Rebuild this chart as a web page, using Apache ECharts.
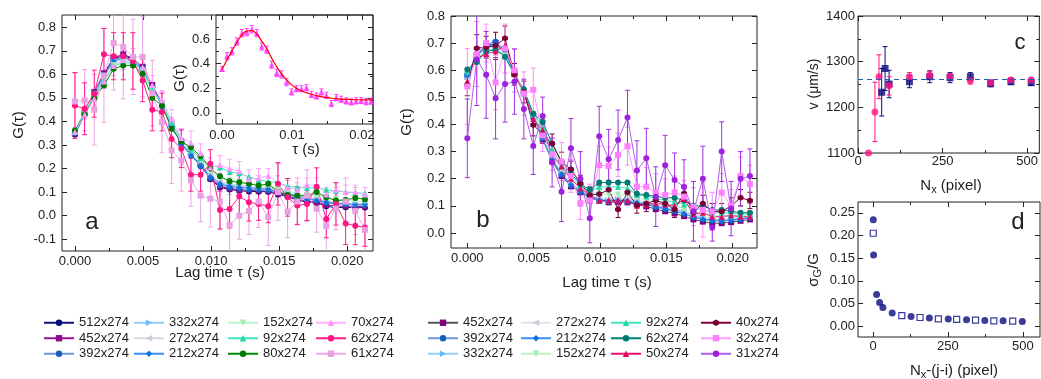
<!DOCTYPE html>
<html><head><meta charset="utf-8">
<script src="https://cdn.jsdelivr.net/npm/echarts@6/dist/echarts.min.js"></script>
<style>html,body{margin:0;padding:0;background:#fff}#c{width:1041px;height:379px}</style>
</head><body><div id="c"></div><script>
// ---------------- DATA ----------------
const lagTime = [0,0.00071,0.00142,0.00213,0.00284,0.00355,0.00426,0.00497,0.00568,0.00639,0.0071,0.00781,0.00852,0.00923,0.00994,0.01065,0.01136,0.01207,0.01278,0.01349,0.0142,0.01491,0.01562,0.01633,0.01704,0.01775,0.01846,0.01917,0.01988,0.02059,0.0213];

// panel a
const namesA = ['512x274','452x274','392x274','332x274','272x274','212x274','152x274','92x274','80x274','70x274','62x274','61x274'];
const a512 = [0.345,0.43,0.52,0.60,0.665,0.68,0.665,0.63,0.55,0.47,0.385,0.31,0.26,0.215,0.155,0.12,0.111,0.106,0.103,0.102,0.102,0.09,0.081,0.066,0.058,0.055,0.04,0.034,0.036,0.033,0.035];
const a452 = [0.35,0.435,0.525,0.605,0.67,0.685,0.668,0.632,0.555,0.475,0.39,0.315,0.262,0.218,0.158,0.125,0.115,0.11,0.108,0.106,0.104,0.094,0.085,0.07,0.062,0.058,0.046,0.04,0.04,0.038,0.04];
const a392 = [0.35,0.432,0.522,0.598,0.66,0.675,0.66,0.625,0.545,0.465,0.382,0.305,0.255,0.21,0.16,0.13,0.12,0.115,0.11,0.11,0.108,0.1,0.09,0.078,0.07,0.065,0.055,0.05,0.048,0.045,0.045];
const a332 = [0.352,0.435,0.515,0.59,0.652,0.668,0.655,0.62,0.54,0.47,0.385,0.31,0.26,0.222,0.17,0.14,0.13,0.125,0.12,0.118,0.115,0.105,0.095,0.085,0.075,0.07,0.062,0.056,0.054,0.05,0.05];
const a272 = [0.355,0.437,0.518,0.592,0.655,0.665,0.652,0.618,0.54,0.472,0.39,0.315,0.265,0.225,0.175,0.145,0.135,0.13,0.125,0.12,0.118,0.108,0.098,0.088,0.078,0.072,0.064,0.058,0.055,0.052,0.052];
const a212 = [0.348,0.43,0.515,0.595,0.655,0.67,0.655,0.622,0.542,0.466,0.38,0.305,0.258,0.215,0.165,0.135,0.125,0.12,0.118,0.115,0.112,0.1,0.092,0.08,0.07,0.066,0.058,0.052,0.05,0.047,0.048];
const a152 = [0.36,0.44,0.51,0.58,0.64,0.655,0.65,0.615,0.535,0.475,0.39,0.32,0.275,0.235,0.19,0.16,0.15,0.145,0.138,0.132,0.128,0.115,0.105,0.095,0.088,0.085,0.078,0.07,0.066,0.062,0.06];
const a92  = [0.36,0.44,0.505,0.575,0.635,0.65,0.648,0.612,0.535,0.478,0.395,0.325,0.28,0.245,0.213,0.205,0.185,0.18,0.165,0.152,0.145,0.14,0.125,0.12,0.118,0.118,0.11,0.105,0.1,0.097,0.095];
const a80  = [0.362,0.43,0.50,0.553,0.624,0.638,0.638,0.603,0.50,0.468,0.369,0.315,0.29,0.252,0.20,0.167,0.146,0.142,0.135,0.128,0.135,0.10,0.088,0.085,0.085,0.10,0.078,0.064,0.067,0.075,0.07];
const a70  = [0.355,0.43,0.495,0.57,0.635,0.66,0.67,0.63,0.555,0.49,0.41,0.33,0.31,0.265,0.205,0.215,0.2,0.19,0.155,0.16,0.17,0.14,0.12,0.11,0.13,0.13,0.09,0.11,0.1,0.1,0.09];
const a62  = [0.468,0.454,0.518,0.685,0.677,0.677,0.657,0.574,0.45,0.44,0.326,0.284,0.174,0.174,0.22,0.024,0.028,0.082,0.057,0.05,0.04,0.135,0.078,0.043,0.05,0.123,-0.014,0.05,-0.033,-0.043,-0.05];
const a61  = [0.485,0.49,0.45,0.595,0.733,0.716,0.674,0.674,0.52,0.397,0.277,0.234,0.15,0.085,0.072,0.06,-0.04,0.0,0.02,0.06,-0.007,0.1,0.017,0.06,0.085,0.03,-0.043,0.03,0.06,0.02,-0.06];
const a70err = [0.02,0.02,0.03,0.03,0.04,0.04,0.04,0.04,0.04,0.04,0.04,0.04,0.05,0.04,0.04,0.04,0.04,0.04,0.04,0.04,0.03,0.03,0.03,0.03,0.03,0.03,0.03,0.03,0.03,0.03,0.03];
const a62err = [0.14,0.11,0.1,0.11,0.1,0.1,0.12,0.09,0.09,0.08,0.08,0.08,0.07,0.07,0.06,0.08,0.08,0.09,0.08,0.07,0.07,0.09,0.08,0.08,0.07,0.08,0.08,0.09,0.09,0.08,0.08];
const a61err = [0.12,0.13,0.15,0.2,0.2,0.22,0.16,0.17,0.14,0.13,0.14,0.13,0.11,0.11,0.12,0.12,0.13,0.1,0.1,0.11,0.12,0.12,0.11,0.1,0.11,0.1,0.11,0.09,0.1,0.1,0.12];

// inset (single curve + fit)
const insetG   = [0.357,0.46,0.50,0.58,0.648,0.656,0.68,0.648,0.54,0.513,0.392,0.325,0.312,0.25,0.17,0.196,0.196,0.204,0.15,0.137,0.17,0.142,0.075,0.124,0.11,0.097,0.089,0.097,0.1,0.09,0.095];
const insetErr = [0.02,0.03,0.03,0.03,0.03,0.03,0.03,0.03,0.03,0.03,0.03,0.03,0.03,0.03,0.025,0.025,0.025,0.025,0.025,0.025,0.025,0.025,0.025,0.025,0.025,0.025,0.025,0.025,0.025,0.025,0.025];
const fitTime = [0,0.0007,0.0014,0.0021,0.0028,0.0035,0.0042,0.0049,0.0056,0.0063,0.007,0.0077,0.0084,0.0091,0.0098,0.0105,0.0115,0.0125,0.0135,0.0145,0.0155,0.017,0.0185,0.02,0.0215];
const fitG    = [0.352,0.43,0.5,0.57,0.63,0.665,0.67,0.645,0.59,0.53,0.455,0.385,0.325,0.275,0.235,0.205,0.175,0.155,0.14,0.128,0.12,0.112,0.108,0.106,0.105];

// panel b
const namesB = ['452x274','392x274','332x274','272x274','212x274','152x274','92x274','62x274','50x274','40x274','32x274','31x274'];
const b452 = [0.578,0.655,0.69,0.70,0.672,0.59,0.515,0.43,0.345,0.265,0.21,0.172,0.15,0.13,0.12,0.113,0.115,0.113,0.105,0.098,0.088,0.08,0.072,0.062,0.05,0.042,0.036,0.036,0.04,0.045,0.05];
const b392 = [0.585,0.66,0.695,0.705,0.675,0.59,0.52,0.435,0.35,0.27,0.215,0.175,0.152,0.13,0.118,0.115,0.118,0.115,0.11,0.105,0.095,0.088,0.08,0.07,0.058,0.05,0.045,0.044,0.046,0.05,0.055];
const b332 = [0.575,0.648,0.685,0.69,0.665,0.585,0.512,0.432,0.35,0.275,0.222,0.182,0.158,0.135,0.125,0.122,0.125,0.122,0.115,0.11,0.102,0.095,0.088,0.078,0.066,0.058,0.052,0.05,0.052,0.055,0.06];
const b272 = [0.57,0.645,0.68,0.688,0.662,0.582,0.51,0.43,0.352,0.278,0.225,0.185,0.162,0.14,0.13,0.126,0.128,0.126,0.12,0.115,0.106,0.1,0.092,0.082,0.07,0.062,0.055,0.053,0.055,0.058,0.062];
const b212 = [0.58,0.652,0.688,0.695,0.668,0.588,0.516,0.434,0.348,0.27,0.218,0.178,0.155,0.133,0.122,0.118,0.12,0.118,0.112,0.106,0.098,0.09,0.082,0.072,0.06,0.052,0.047,0.046,0.048,0.052,0.056];
const b152 = [0.59,0.64,0.675,0.68,0.655,0.585,0.515,0.44,0.37,0.29,0.235,0.2,0.172,0.15,0.145,0.142,0.142,0.14,0.13,0.125,0.118,0.11,0.1,0.09,0.08,0.072,0.065,0.062,0.062,0.065,0.068];
const b92  = [0.595,0.635,0.672,0.678,0.652,0.585,0.52,0.44,0.39,0.31,0.25,0.21,0.175,0.155,0.17,0.17,0.17,0.165,0.14,0.135,0.128,0.12,0.115,0.105,0.092,0.085,0.078,0.075,0.072,0.07,0.07];
const b62  = [0.603,0.63,0.67,0.675,0.65,0.585,0.53,0.44,0.41,0.33,0.26,0.22,0.18,0.16,0.186,0.186,0.186,0.186,0.145,0.14,0.135,0.13,0.13,0.12,0.1,0.1,0.085,0.085,0.08,0.075,0.075];
const b50  = [0.56,0.645,0.66,0.67,0.69,0.585,0.52,0.42,0.38,0.29,0.245,0.2,0.165,0.14,0.12,0.12,0.12,0.12,0.1,0.105,0.11,0.105,0.1,0.125,0.07,0.075,0.06,0.06,0.065,0.06,0.06];
const b40  = [0.546,0.681,0.685,0.69,0.718,0.585,0.52,0.398,0.365,0.33,0.263,0.235,0.183,0.14,0.144,0.159,0.087,0.149,0.103,0.109,0.12,0.109,0.087,0.146,0.076,0.109,0.079,0.079,0.1,0.13,0.12];
const b32  = [0.54,0.66,0.70,0.555,0.68,0.60,0.514,0.528,0.36,0.29,0.263,0.21,0.11,0.12,0.25,0.247,0.288,0.32,0.171,0.171,0.149,0.14,0.15,0.134,0.097,0.085,0.08,0.149,0.1,0.21,0.18];
const b31  = [0.349,0.64,0.583,0.497,0.549,0.558,0.457,0.321,0.431,0.26,0.152,0.312,0.2,0.054,0.357,0.272,0.343,0.426,0.23,0.276,0.134,0.25,0.195,0.17,0.08,0.2,0.02,0.3,0.09,0.2,0.21];
const b40err = [0.04,0.05,0.04,0.05,0.045,0.04,0.04,0.04,0.035,0.035,0.035,0.03,0.03,0.03,0.03,0.035,0.03,0.03,0.03,0.03,0.03,0.03,0.03,0.03,0.03,0.03,0.03,0.03,0.03,0.03,0.03];
const b32err = [0.14,0.12,0.07,0.1,0.09,0.08,0.08,0.08,0.06,0.06,0.07,0.06,0.06,0.06,0.07,0.07,0.08,0.07,0.06,0.07,0.07,0.06,0.06,0.06,0.07,0.1,0.07,0.07,0.06,0.07,0.07];
const b31err = [0.145,0.17,0.16,0.15,0.14,0.12,0.11,0.105,0.07,0.09,0.11,0.11,0.1,0.09,0.11,0.11,0.11,0.1,0.11,0.11,0.11,0.11,0.1,0.1,0.11,0.12,0.05,0.11,0.1,0.1,0.1];

// panel c
const cPinkN = [31,50,62,92,152,212,272,332,392,452,512];
const cPinkV = [1100,1190,1267,1247,1267,1270,1267,1258,1254,1260,1260];
const cPinkErr = [0,65,48,20,9,9,7,7,6,5,5];
const cBlueN = [70,80,92,152,212,272,332,392,452,512];
const cBlueV = [1233,1285,1251,1256,1267,1265,1267,1252,1256,1254];
const cBlueErr = [52,48,30,13,13,11,9,7,6,6];
const cMean = 1261;

// panel d
const dCircX = [1,2,12,22,33,64,127,188,251,312,373,434,498];
const dCircV = [0.235,0.157,0.070,0.052,0.041,0.029,0.021,0.018,0.0155,0.014,0.0125,0.0118,0.0103];
const dSqX = [1,96,157,218,279,342,403,466];
const dSqV = [0.205,0.023,0.019,0.016,0.0147,0.0133,0.0118,0.011];

// tick labels
const lagTicks = [0,0.005,0.01,0.015,0.02];
const lagMinor = [0.0025,0.0075,0.0125,0.0175];
const aTicksY = [-0.1,0,0.1,0.2,0.3,0.4,0.5,0.6,0.7,0.8];
const bTicksY = [0,0.1,0.2,0.3,0.4,0.5,0.6,0.7,0.8];
const insetTicksX = [0,0.01,0.02];
const insetMinorX = [0.005,0.015];
const insetTicksY = [0,0.2,0.4,0.6];
const insetMinorY = [0.1,0.3,0.5,0.7];
const cTicksX = [0,250,500];
const cMinorX = [125,375];
const cTicksY = [1100,1200,1300,1400];
const cMinorY = [1150,1250,1350];
const dTicksX = [0,250,500];
const dMinorX = [125,375];
const dTicksY = [0,0.05,0.1,0.15,0.2,0.25];

// ---------------- BUILD ----------------
const FONT = 'Liberation Sans, Arial, sans-serif';
const INK = '#222';
const SYM = {
  circle:'circle', square:'rect', up:'triangle', diamond:'diamond',
  right:'path://M0,0L10,5L0,10Z', left:'path://M10,0L0,5L10,10Z', down:'path://M0,0L10,0L5,10Z',
  hex:'path://M5,0L9.33,2.5L9.33,7.5L5,10L0.67,7.5L0.67,2.5Z'
};

const xAxes = [], yAxes = [];
function mkAxis(g, pos, r, kind){
  const isLab = kind === 'label';
  const vals = kind === 'minor' ? r.minor : r.major;
  return {
    type:'value', gridIndex:g, position:pos, min:r.min, max:r.max,
    axisLine:{show:false, onZero:false}, splitLine:{show:false},
    axisTick:{show: !!(vals && vals.length), inside:true, length: kind==='minor'?3:5,
      customValues: vals && vals.length ? vals : undefined, lineStyle:{color:INK, width:1}},
    axisLabel:{show:isLab, customValues: r.major, formatter:r.fmt, margin:r.margin,
      fontSize:13, color:INK, fontFamily:FONT},
    silent:true
  };
}
function addAxes(g, xr, yr){
  const xi = xAxes.length, yi = yAxes.length;
  xAxes.push(mkAxis(g,'bottom',xr,'label'), mkAxis(g,'bottom',xr,'minor'), mkAxis(g,'top',xr,'major'), mkAxis(g,'top',xr,'minor'));
  yAxes.push(mkAxis(g,'left',yr,'label'), mkAxis(g,'left',yr,'minor'), mkAxis(g,'right',yr,'major'), mkAxis(g,'right',yr,'minor'));
  return {xi, yi};
}
const f3 = v => v.toFixed(3), f2 = v => v.toFixed(2), f1 = v => v.toFixed(1), f0 = v => String(Math.round(v));

const grids = [
  {left:62, top:15, width:311, height:236},
  {left:216, top:15, width:157, height:109},
  {left:451, top:16, width:306, height:232},
  {left:858, top:16, width:182, height:137},
  {left:858, top:202, width:182, height:135}
].map(g => Object.assign({show:true, borderColor:INK, borderWidth:1, backgroundColor:'transparent'}, g));

const A = addAxes(0, {min:-0.00095,max:0.02189,major:lagTicks,minor:lagMinor,fmt:f3,margin:4},
                     {min:-0.15,max:0.852,major:aTicksY,minor:[],fmt:f1,margin:6});
const I = addAxes(1, {min:-0.00086,max:0.02157,major:insetTicksX,minor:insetMinorX,fmt:f2,margin:5},
                     {min:-0.091,max:0.796,major:insetTicksY,minor:insetMinorY,fmt:f1,margin:6});
const B = addAxes(2, {min:-0.00123,max:0.02183,major:lagTicks,minor:lagMinor,fmt:f3,margin:4},
                     {min:-0.0553,max:0.8,major:bTicksY,minor:[],fmt:f1,margin:6});
const C = addAxes(3, {min:0,max:536,major:cTicksX,minor:cMinorX,fmt:f0,margin:2},
                     {min:1100,max:1400,major:cTicksY,minor:cMinorY,fmt:f0,margin:3});
const D = addAxes(4, {min:-50,max:557,major:dTicksX,minor:dMinorX,fmt:f0,margin:3},
                     {min:-0.024,max:0.274,major:dTicksY,minor:[],fmt:f2,margin:3});

function lineSeries(name, ax, ys, st, size){
  return {type:'line', name, xAxisIndex:ax.xi, yAxisIndex:ax.yi,
    data: lagTime.map((t,i)=>[t, ys[i]]),
    symbol:SYM[st.sym], symbolSize:size||6, showSymbol:true, showAllSymbol:true,
    lineStyle:{color:st.line, width:1}, itemStyle:{color:st.mark},
    emphasis:{disabled:true}, silent:true, z:3, clip:true, animation:false};
}
function errSeries(ax, xs, ys, es, color, hw){
  return {type:'custom', xAxisIndex:ax.xi, yAxisIndex:ax.yi, silent:true, clip:true, z:2, animation:false,
    data: xs.map((x,i)=>[x, ys[i], es[i]]),
    encode:{x:0, y:1},
    renderItem(params, api){
      const x = api.value(0), y = api.value(1), e = api.value(2);
      const p1 = api.coord([x, y+e]), p2 = api.coord([x, y-e]);
      const w = hw || 2.5;
      const st = {stroke:color, lineWidth:1};
      return {type:'group', children:[
        {type:'line', shape:{x1:p1[0],y1:p1[1],x2:p2[0],y2:p2[1]}, style:st},
        {type:'line', shape:{x1:p1[0]-w,y1:p1[1],x2:p1[0]+w,y2:p1[1]}, style:st},
        {type:'line', shape:{x1:p2[0]-w,y1:p2[1],x2:p2[0]+w,y2:p2[1]}, style:st}
      ]};
    }};
}

const stA = [
  {sym:'circle', line:'#10107a', mark:'#0a0a80'},
  {sym:'square', line:'#9a109a', mark:'#8a0a8a'},
  {sym:'circle', line:'#6a98d8', mark:'#1c5fbe'},
  {sym:'right',  line:'#90d2f8', mark:'#6cbcf0'},
  {sym:'left',   line:'#d4dae0', mark:'#c6cdd6'},
  {sym:'diamond',line:'#3a90f0', mark:'#1470e0'},
  {sym:'down',   line:'#b8f4c6', mark:'#9eeeb0'},
  {sym:'up',     line:'#40e6c0', mark:'#22d8aa'},
  {sym:'circle', line:'#008a00', mark:'#007a00'},
  {sym:'up',     line:'#ffb0ff', mark:'#ff94ff'},
  {sym:'circle', line:'#ff1a8c', mark:'#ff1484'},
  {sym:'square', line:'#eeaae8', mark:'#e8a0e2'}
];
const stB = [
  {sym:'square', line:'#555555', mark:'#800080'},
  {sym:'circle', line:'#6a98d8', mark:'#1060c0'},
  {sym:'right',  line:'#90d2f8', mark:'#60b8f0'},
  {sym:'left',   line:'#dde2e8', mark:'#c6cdd6'},
  {sym:'diamond',line:'#3a90f0', mark:'#1470e0'},
  {sym:'down',   line:'#b8f4c6', mark:'#9eeeb0'},
  {sym:'up',     line:'#40e6c0', mark:'#22d8aa'},
  {sym:'circle', line:'#008078', mark:'#007a72'},
  {sym:'up',     line:'#e8106a', mark:'#e00a64'},
  {sym:'hex',    line:'#800040', mark:'#7a0038'},
  {sym:'square', line:'#ff9cff', mark:'#ff80ff'},
  {sym:'circle', line:'#b060e8', mark:'#a020e0'}
];
const valsA = [a512,a452,a392,a332,a272,a212,a152,a92,a80,a70,a62,a61];
const valsB = [b452,b392,b332,b272,b212,b152,b92,b62,b50,b40,b32,b31];

const series = [];
// panel a error bars
series.push(errSeries(A, lagTime, a61, a61err, '#eaa6e4'));
series.push(errSeries(A, lagTime, a70, a70err, '#ffa0ff'));
series.push(errSeries(A, lagTime, a62, a62err, '#ff1a8c'));
namesA.forEach((n,i)=>series.push(lineSeries(n, A, valsA[i], stA[i], 6)));
// inset
series.push(errSeries(I, lagTime, insetG, insetErr, '#ff40ff', 2));
series.push({type:'scatter', xAxisIndex:I.xi, yAxisIndex:I.yi, data:lagTime.map((t,i)=>[t, insetG[i]]),
  symbol:'triangle', symbolSize:6, itemStyle:{color:'#ff33ff'}, silent:true, z:3, animation:false});
series.push({type:'line', xAxisIndex:I.xi, yAxisIndex:I.yi, data:fitTime.map((t,i)=>[t, fitG[i]]),
  smooth:0.5, showSymbol:false, symbol:'none', lineStyle:{color:'#ff0000', width:1.2}, silent:true, z:4, animation:false});
// panel b
series.push(errSeries(B, lagTime, b40, b40err, '#7a0038'));
series.push(errSeries(B, lagTime, b32, b32err, '#ff88ff'));
series.push(errSeries(B, lagTime, b31, b31err, '#a030e0'));
namesB.forEach((n,i)=>series.push(lineSeries(n+'|b', B, valsB[i], stB[i], 6)));
// panel c
series.push(errSeries(C, cBlueN, cBlueV, cBlueErr, '#0a0a80', 2.5));
series.push(errSeries(C, cPinkN, cPinkV, cPinkErr, '#ff1484', 2.5));
series.push({type:'scatter', xAxisIndex:C.xi, yAxisIndex:C.yi, data:cBlueN.map((x,i)=>[x,cBlueV[i]]),
  symbol:'rect', symbolSize:7, itemStyle:{color:'#0a0a80'}, silent:true, z:3, animation:false,
  markLine:{silent:true, symbol:'none', animation:false, label:{show:false},
    lineStyle:{color:'#1f5fb0', type:[5,4], width:1.2}, data:[{yAxis:cMean}]}});
series.push({type:'scatter', xAxisIndex:C.xi, yAxisIndex:C.yi, data:cPinkN.map((x,i)=>[x,cPinkV[i]]),
  symbol:'circle', symbolSize:7, itemStyle:{color:'#ff1484'}, silent:true, z:4, animation:false});
// panel d
series.push({type:'scatter', xAxisIndex:D.xi, yAxisIndex:D.yi, data:dCircX.map((x,i)=>[x,dCircV[i]]),
  symbol:'circle', symbolSize:7, itemStyle:{color:'#0a0a80'}, silent:true, z:3, animation:false});
series.push({type:'scatter', xAxisIndex:D.xi, yAxisIndex:D.yi, data:dSqX.map((x,i)=>[x,dSqV[i]]),
  symbol:'rect', symbolSize:6, itemStyle:{color:'#fff', borderColor:'#0a0a80', borderWidth:1.2}, silent:true, z:3, animation:false});

// legends (4 columns x 3 rows each)
const legends = [];
const legColsA = [43,133,227,315], legColsB = [427,520,610,700];
function addLegend(names, cols, suffix){
  cols.forEach((x,c)=>{
    legends.push({orient:'vertical', left:x, top:315, padding:0, itemGap:0, itemWidth:30, itemHeight:8,
      selectedMode:false, data:names.slice(c*3, c*3+3).map(n=>n+suffix),
      formatter: n => n.split('|')[0],
      textStyle:{fontSize:13, fontFamily:FONT, color:INK, lineHeight:15.5}});
  });
}
addLegend(namesA, legColsA, '');
addLegend(namesB, legColsB, '|b');

function txt(x, y, text, size, rot, rich){
  const el = {type:'text', x, y, silent:true, style:{text, fontSize:size, fontFamily:FONT, fill:INK, align:'center', verticalAlign:'middle'}};
  if (rot) el.rotation = rot;
  if (rich) el.style.rich = rich;
  return el;
}
const sub = {n:{fontSize:15, fontFamily:FONT, fill:INK}, s:{fontSize:11, fontFamily:FONT, fill:INK, padding:[7,0,0,0]}};
const graphics = [
  txt(19,125,'G(τ)',15,Math.PI/2),
  txt(220,273,'Lag time τ (s)',15),
  txt(92,222,'a',24),
  txt(180,78,'G(τ)',15,Math.PI/2),
  txt(306,150,'τ (s)',15),
  txt(407,122,'G(τ)',15,Math.PI/2),
  txt(607,283,'Lag time τ (s)',15),
  txt(483,220,'b',24),
  txt(814,84,'v (μm/s)',14,Math.PI/2),
  txt(951,186,'{n|N}{s|x}{n| (pixel)}',15,0,sub),
  txt(1020,43,'c',22),
  txt(814,270,'{n|σ}{s|G}{n|/G}',15,Math.PI/2,sub),
  txt(954,371,'{n|N}{s|x}{n|-(j-i) (pixel)}',15,0,sub),
  txt(1018,222,'d',24)
];

const chart = echarts.init(document.getElementById('c'), null, {renderer:'canvas'});
chart.setOption({
  animation:false, backgroundColor:'#fff',
  grid:grids, xAxis:xAxes, yAxis:yAxes, legend:legends, series, graphic:graphics,
  tooltip:{show:false}
});
</script></body></html>
